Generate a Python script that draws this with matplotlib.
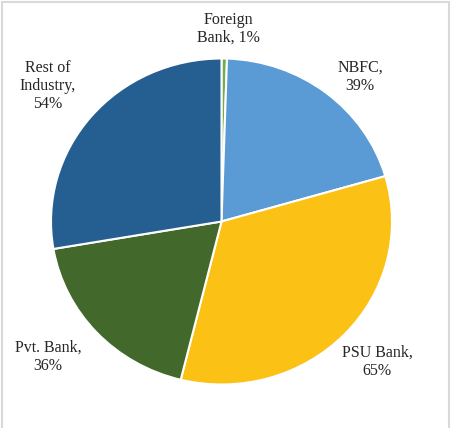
import matplotlib.pyplot as plt
from matplotlib.patches import Rectangle

# share of segment (percent)
segments = ['Foreign\nBank, 1%', 'NBFC,\n39%', 'PSU Bank,\n65%', 'Pvt. Bank,\n36%', 'Rest of\nIndustry,\n54%']
shares = [1, 39, 65, 36, 54]
colors = ['#70AD47', '#5B9BD5', '#FBC115', '#43682B', '#255E91']

# label centres in pixels from the top-left corner
label_x = [228, 360, 377, 48, 48]
label_y = [29, 77, 362, 357, 86]

W, H = 451, 428
rx, ry = 170.5, 163.0          # pie is slightly wider than tall
cx, cy = 221.5, 221.5          # centre, pixels from top-left

fig = plt.figure(figsize=(W / 100, H / 100), dpi=100)
ax = fig.add_axes([0, 0, 1, 1])

ax.pie(shares, colors=colors, startangle=90, counterclock=False,
       center=(cx, (H - cy) * rx / ry), radius=rx, frame=True,
       wedgeprops=dict(edgecolor='white', linewidth=1.5))
ax.set_aspect('auto')
ax.set_xlim(0, W)
ax.set_ylim(0, H * rx / ry)
ax.axis('off')

for txt, x, y in zip(segments, label_x, label_y):
    fig.text(x / W, 1 - y / H, txt, ha='center', va='center', fontsize=11.5,
             family='Liberation Serif', color='#262626', linespacing=1.15)

# light grey frame round the chart area
fig.patches.append(Rectangle((2 / W, -0.05), (W - 4) / W, 1.05 - 2 / H,
                             transform=fig.transFigure, fill=False,
                             edgecolor='#d9d9d9', linewidth=1.5))

fig.savefig('out.png', dpi=100)
